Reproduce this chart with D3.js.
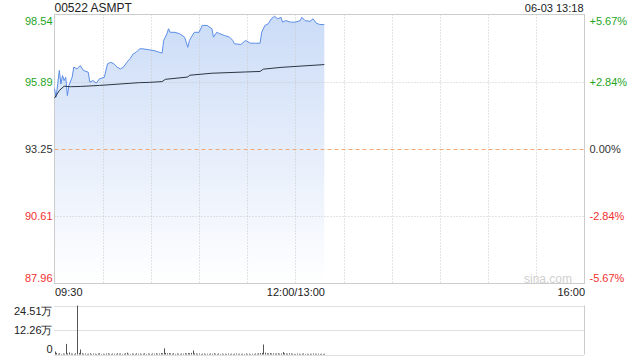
<!DOCTYPE html>
<html>
<head>
<meta charset="utf-8">
<script src="https://cdn.jsdelivr.net/npm/d3@7"></script>
<style>
  body { margin: 0; background: #fff; }
  svg { display: block; font-family: Arial, "Liberation Sans", sans-serif; }
</style>
</head>
<body>
<script>
var title = '00522 ASMPT';
var stamp = '06-03 13:18';
var prevClose = 93.25;

// price ticks (left) and change ticks (right)
var priceTicks = [98.54, 95.89, 93.25, 90.61, 87.96];
var pctLabels = ['+5.67%', '+2.84%', '0.00%', '-2.84%', '-5.67%'];
var timeLabels = ['09:30', '12:00/13:00', '16:00'];
var timeTickMin = [0, 150, 330];
var volTicks = [24.51, 12.26, 0];
var volLabels = ['24.51万', '12.26万', '0'];

// last price
var priceTimes = ['09:30', '09:31', '09:32', '09:33', '09:34', '09:35', '09:36', '09:37', '09:38', '09:39',
  '09:41', '09:42', '09:44', '09:46', '09:48', '09:51', '09:52', '09:54', '09:56', '09:58',
  '10:01', '10:03', '10:05', '10:07', '10:09', '10:11', '10:13', '10:15', '10:17', '10:19',
  '10:21', '10:23', '10:25', '10:29', '10:32', '10:35', '10:37', '10:38', '10:40', '10:41',
  '10:42', '10:45', '10:48', '10:51', '10:53', '10:54', '10:57', '11:00', '11:02', '11:05',
  '11:08', '11:09', '11:11', '11:13', '11:16', '11:19', '11:21', '11:22', '11:26', '11:29',
  '11:32', '11:35', '11:38', '11:39', '11:41', '11:43', '11:45', '11:47', '11:49', '11:51',
  '11:52', '11:54', '11:57', '13:00', '13:03', '13:04', '13:06', '13:09', '13:11', '13:13',
  '13:15', '13:18'];
var priceValues = [95.62, 95.29, 95.81, 96.34, 95.81, 96.14, 95.94, 96.07, 95.35, 95.75,
  96.07, 96.47, 96.40, 96.53, 96.34, 96.27, 95.88, 95.94, 95.84, 96.01,
  96.07, 96.60, 96.66, 96.60, 96.47, 96.40, 96.47, 96.66, 96.80, 96.99,
  97.06, 97.19, 97.19, 97.15, 97.12, 97.06, 97.02, 97.52, 97.78, 97.98,
  97.84, 97.84, 97.78, 97.65, 97.25, 97.52, 97.84, 97.84, 98.11, 98.11,
  97.98, 97.65, 97.84, 97.78, 97.71, 97.65, 97.52, 97.39, 97.36, 97.52,
  97.41, 97.41, 97.41, 97.84, 98.11, 98.17, 98.37, 98.47, 98.37, 98.43,
  98.24, 98.30, 98.24, 98.24, 98.30, 98.43, 98.30, 98.27, 98.37, 98.20,
  98.15, 98.14];

// average price
var avgTimes = ['09:30', '09:33', '09:36', '09:40', '09:46', '09:58', '10:23', '10:29', '10:37', '10:39',
  '10:53', '10:54', '11:08', '11:29', '11:38', '11:40', '11:51', '13:18'];
var avgValues = [95.25, 95.55, 95.72, 95.70, 95.71, 95.75, 95.86, 95.87, 95.90, 95.99,
  96.08, 96.15, 96.23, 96.28, 96.30, 96.39, 96.46, 96.57];

// volume per minute from 09:30, in 万 shares
var volumeWan = [
  1.5, 0.8, 0.4, 0.6, 0.3, 0.5, 0.4, 5.3, 0.6, 1.0,
  0.5, 0.4, 0.3, 0.6, 24.51, 0.7, 2.5, 0.6, 0.4, 0.5,
  0.3, 0.4, 0.6, 0.3, 0.5, 0.4, 0.3, 0.5, 0.6, 0.3,
  0.4, 0.3, 0.5, 0.6, 0.4, 0.3, 0.5, 0.4, 0.3, 0.6,
  0.4, 0.5, 0.3, 0.4, 0.6, 0.9, 0.4, 0.3, 0.5, 0.4,
  0.3, 0.6, 0.4, 0.5, 0.3, 0.4, 0.6, 0.3, 0.5, 0.4,
  0.3, 0.5, 0.4, 0.6, 0.4, 0.5, 0.7, 0.6, 3.1, 0.8,
  0.6, 0.7, 0.5, 0.4, 0.6, 0.3, 0.5, 0.4, 0.3, 0.5,
  0.4, 0.6, 0.5, 0.7, 0.6, 0.8, 2.0, 0.6, 0.5, 0.4,
  0.5, 0.3, 0.4, 0.5, 0.3, 0.4, 0.3, 0.5, 0.4, 0.6,
  0.4, 0.3, 0.5, 0.3, 0.4, 0.3, 0.4, 0.3, 0.5, 0.3,
  0.4, 0.3, 0.4, 0.5, 0.3, 0.4, 0.3, 0.4, 0.3, 0.5,
  0.3, 0.4, 0.3, 0.4, 0.3, 0.5, 0.4, 0.6, 0.7, 0.8,
  5.0, 0.9, 0.6, 0.5, 0.7, 0.5, 0.6, 0.4, 0.5, 0.6,
  0.4, 0.5, 1.2, 0.6, 0.5, 0.4, 0.6, 0.5, 0.4, 0.3,
  0.3, 0.5, 0.4, 0.3, 0.4, 0.5, 0.3, 0.4, 0.3, 0.4,
  0.3, 0.5, 0.4, 0.3, 0.4, 0.3, 0.4, 0.3, 0.4];

var green = '#1ea51e';
var red = '#f03030';
var grey = '#333';

// trading minutes since 09:30, lunch break squeezed out
function minuteOf(t) {
  var p = t.split(':');
  var m = (+p[0]) * 60 + (+p[1]);
  if (m >= 13 * 60) return 150 + (m - 13 * 60);
  return m - (9 * 60 + 30);
}

var pLeft = 54.5, pRight = 584.5;
var pTop = 14.5, pBottom = 283.5;
var vTop = 305.5, vBottom = 354.5;

var svg = d3.select('body').append('svg')
  .attr('width', 640)
  .attr('height', 360);

var x = d3.scaleLinear().domain([0, 330]).range([pLeft, pRight]);
var y = d3.scaleLinear().domain([87.96, 98.54]).range([pBottom, pTop]);
var yv = d3.scaleLinear().domain([0, 24.51]).range([vBottom, vTop]);

function colorFor(v) {
  if (v > prevClose + 0.001) return green;
  if (v < prevClose - 0.001) return red;
  return grey;
}

var defs = svg.append('defs');
var grad = defs.append('linearGradient')
  .attr('id', 'fillGrad')
  .attr('gradientUnits', 'userSpaceOnUse')
  .attr('x1', 0).attr('y1', pTop)
  .attr('x2', 0).attr('y2', pBottom);
grad.append('stop').attr('offset', 0).attr('stop-color', '#cbdcf7');
grad.append('stop').attr('offset', 0.55).attr('stop-color', '#e8effb');
grad.append('stop').attr('offset', 1).attr('stop-color', '#ffffff');

var pricePts = priceTimes.map(function(t, i) { return [minuteOf(t), priceValues[i]]; });
var avgPts = avgTimes.map(function(t, i) { return [minuteOf(t), avgValues[i]]; });

// area under price
svg.append('path')
  .datum(pricePts)
  .attr('fill', 'url(#fillGrad)')
  .attr('d', d3.area()
    .x(function(d) { return x(d[0]); })
    .y0(pBottom)
    .y1(function(d) { return y(d[1]); }));

// vertical grid
var vg = d3.range(1, 11).map(function(i) { return i * 30; });
svg.append('g').selectAll('line')
  .data(vg)
  .join('line')
  .attr('x1', function(d) { return Math.round(x(d)) + 0.5; })
  .attr('x2', function(d) { return Math.round(x(d)) + 0.5; })
  .attr('y1', pTop).attr('y2', pBottom)
  .attr('stroke', '#c8c8c8')
  .attr('stroke-dasharray', '1,2');

// horizontal grid
svg.append('g').selectAll('line')
  .data([priceTicks[1], priceTicks[3]])
  .join('line')
  .attr('x1', pLeft).attr('x2', pRight)
  .attr('y1', function(d) { return Math.round(y(d)) + 0.5; })
  .attr('y2', function(d) { return Math.round(y(d)) + 0.5; })
  .attr('stroke', '#c8c8c8')
  .attr('stroke-dasharray', '1,2');

svg.append('line')
  .attr('x1', pLeft).attr('x2', pRight)
  .attr('y1', Math.round(y(prevClose)) + 0.5)
  .attr('y2', Math.round(y(prevClose)) + 0.5)
  .attr('stroke', '#f0a878')
  .attr('stroke-dasharray', '4,3');

// frame
svg.append('rect')
  .attr('x', pLeft).attr('y', pTop)
  .attr('width', pRight - pLeft).attr('height', pBottom - pTop)
  .attr('fill', 'none')
  .attr('stroke', '#cccccc');

svg.append('text')
  .attr('x', 572).attr('y', 283)
  .attr('text-anchor', 'end')
  .attr('font-size', 12)
  .attr('fill', '#d0d0d0')
  .text('sina.com');

// lines
svg.append('path')
  .datum(pricePts)
  .attr('fill', 'none')
  .attr('stroke', '#5b8ee8')
  .attr('stroke-width', 1)
  .attr('d', d3.line()
    .x(function(d) { return x(d[0]); })
    .y(function(d) { return y(d[1]); }));

svg.append('path')
  .datum(avgPts)
  .attr('fill', 'none')
  .attr('stroke', '#2c3644')
  .attr('stroke-width', 1)
  .attr('d', d3.line()
    .x(function(d) { return x(d[0]); })
    .y(function(d) { return y(d[1]); }));

// left price axis
var yAxisL = svg.append('g')
  .attr('transform', 'translate(' + (pLeft - 2) + ',0)')
  .call(d3.axisLeft(y).tickValues(priceTicks).tickSize(0).tickPadding(0)
    .tickFormat(d3.format('.2f')));
yAxisL.select('.domain').remove();
yAxisL.selectAll('text')
  .attr('font-size', 11)
  .attr('font-family', 'Arial, "Liberation Sans", sans-serif')
  .attr('fill', function(d) { return colorFor(d); })
  .attr('dy', function(d, i) { return i === 0 ? '0.95em' : (i === priceTicks.length - 1 ? '-0.15em' : '0.32em'); });

// right percent axis
var yAxisR = svg.append('g')
  .attr('transform', 'translate(' + (pRight + 5) + ',0)')
  .call(d3.axisRight(y).tickValues(priceTicks).tickSize(0).tickPadding(0)
    .tickFormat(function(d, i) { return pctLabels[i]; }));
yAxisR.select('.domain').remove();
yAxisR.selectAll('text')
  .attr('font-size', 11)
  .attr('font-family', 'Arial, "Liberation Sans", sans-serif')
  .attr('fill', function(d) { return colorFor(d); })
  .attr('dy', function(d, i) { return i === 0 ? '0.95em' : (i === priceTicks.length - 1 ? '-0.15em' : '0.32em'); });

// time axis
var xAxis = svg.append('g')
  .attr('transform', 'translate(0,' + pBottom + ')')
  .call(d3.axisBottom(x).tickValues(timeTickMin).tickSize(0).tickPadding(0)
    .tickFormat(function(d, i) { return timeLabels[i]; }));
xAxis.select('.domain').remove();
xAxis.selectAll('text')
  .attr('font-size', 11)
  .attr('font-family', 'Arial, "Liberation Sans", sans-serif')
  .attr('fill', '#222')
  .attr('dy', '1.15em')
  .attr('text-anchor', function(d, i) { return i === 0 ? 'start' : (i === 2 ? 'end' : 'middle'); });

// title and stamp
svg.append('text')
  .attr('x', pLeft).attr('y', 12)
  .attr('font-size', 12)
  .attr('fill', '#222')
  .text(title);
svg.append('text')
  .attr('x', pRight - 1).attr('y', 12)
  .attr('text-anchor', 'end')
  .attr('font-size', 11)
  .attr('fill', '#222')
  .text(stamp);

// volume panel
svg.append('g').selectAll('line')
  .data(volTicks)
  .join('line')
  .attr('x1', pLeft).attr('x2', pRight)
  .attr('y1', function(d) { return Math.round(yv(d)) + 0.5; })
  .attr('y2', function(d) { return Math.round(yv(d)) + 0.5; })
  .attr('stroke', '#c0c0c0')
  .attr('stroke-dasharray', '1,1');
svg.append('line')
  .attr('x1', pRight).attr('x2', pRight)
  .attr('y1', vTop).attr('y2', vBottom)
  .attr('stroke', '#cccccc');

svg.append('g').selectAll('line')
  .data(volumeWan)
  .join('line')
  .attr('x1', function(d, i) { return Math.round(x(i)) + 0.5; })
  .attr('x2', function(d, i) { return Math.round(x(i)) + 0.5; })
  .attr('y1', yv(0))
  .attr('y2', function(d) { return yv(d); })
  .attr('stroke', '#555')
  .attr('stroke-width', 1);

var yAxisV = svg.append('g')
  .attr('transform', 'translate(' + (pLeft - 2) + ',0)')
  .call(d3.axisLeft(yv).tickValues(volTicks).tickSize(0).tickPadding(0)
    .tickFormat(function(d, i) { return volLabels[i]; }));
yAxisV.select('.domain').remove();
yAxisV.selectAll('text')
  .attr('font-size', 11)
  .attr('font-family', 'Arial, "Liberation Sans", sans-serif')
  .attr('fill', '#222')
  .attr('dy', function(d, i) { return i === 0 ? '0.85em' : (i === 2 ? '-0.2em' : '0.32em'); });
</script>
</body>
</html>
